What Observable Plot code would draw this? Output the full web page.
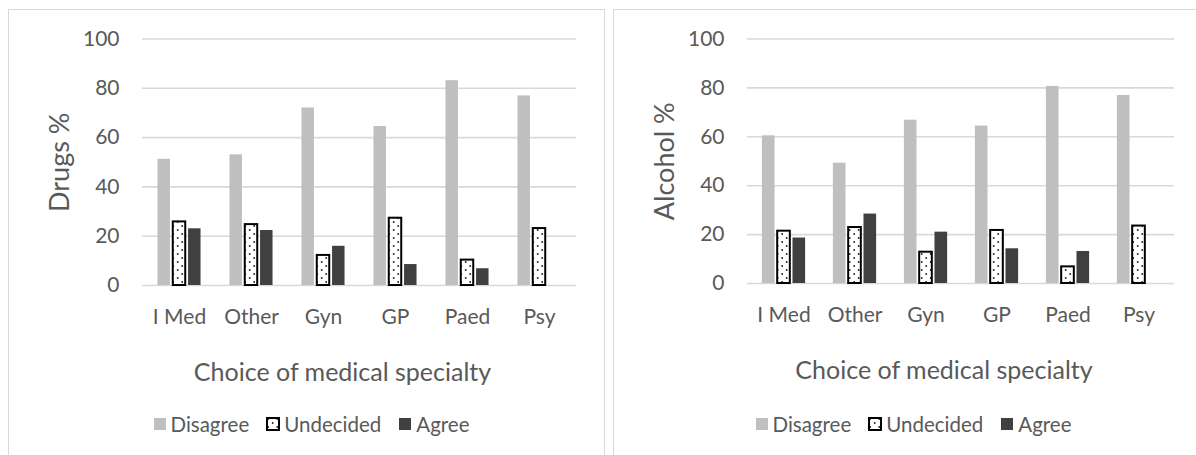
<!DOCTYPE html>
<html>
<head>
<meta charset="utf-8">
<script src="https://cdn.jsdelivr.net/npm/d3@7"></script>
<script src="https://cdn.jsdelivr.net/npm/@observablehq/plot@0.6"></script>
<style>
  html, body { margin: 0; padding: 0; background: #fff; }
  body { position: relative; width: 1196px; height: 455px; overflow: hidden; font-family: Lato, "Open Sans", sans-serif; }
  .frame { position: absolute; border: 1.5px solid #d9d9d9; box-sizing: border-box; }
  .chart { position: absolute; top: 0; }
  .legend { position: absolute; top: 412px; display: flex; justify-content: center; align-items: center; font-size: 20.5px; color: #595959; font-family: Lato, sans-serif; }
  .legend .item { display: flex; align-items: center; margin: 0 8.5px; }
  .legend svg { margin-right: 4px; }
</style>
</head>
<body>
<svg width="0" height="0" style="position:absolute">
  <defs>
    <pattern id="dots" patternUnits="userSpaceOnUse" width="9" height="8">
      <rect width="9" height="8" fill="#fff"></rect>
      <circle cx="2.2" cy="2" r="0.95" fill="#222"></circle>
      <circle cx="6.7" cy="6" r="0.95" fill="#222"></circle>
    </pattern>
  </defs>
</svg>
<div class="frame" style="left:8px; top:9px; width:597px; height:470px;"></div>
<div class="frame" style="left:613px; top:9px; width:600px; height:470px;"></div>
<div id="left" class="chart" style="left:0px;"></div>
<div id="right" class="chart" style="left:600px;"></div>
<div id="legendL" class="legend" style="left:0px; width:622px;"></div>
<div id="legendR" class="legend" style="left:600px; width:626px;"></div>
<script>
// ---- data ----
const categories = ["I Med", "Other", "Gyn", "GP", "Paed", "Psy"];
const seriesNames = ["Disagree", "Undecided", "Agree"];
const drugsDisagree  = [51.2, 53.0, 72.0, 64.5, 83.1, 76.9];
const drugsUndecided = [25.8, 24.7, 12.2, 27.3, 10.3, 23.1];
const drugsAgree     = [23.0, 22.3, 15.9, 8.5, 6.8, 0];
const alcoholDisagree  = [60.4, 49.2, 66.8, 64.4, 80.6, 76.9];
const alcoholUndecided = [21.4, 22.9, 12.8, 21.7, 6.8, 23.5];
const alcoholAgree     = [18.6, 28.4, 21.0, 14.2, 13.1, 0];
const yTicks = [0, 20, 40, 60, 80, 100];
const xTitle = "Choice of medical specialty";

const seriesStyle = {
  Disagree:  {fill: "#bfbfbf"},
  Undecided: {fill: "url(#dots)", stroke: "#000", strokeWidth: 2},
  Agree:     {fill: "#404040"}
};

function makePanel({lists, yLabel, width, marginLeft, marginRight, yZero}) {
  const height = 400;
  const step = (width - marginLeft - marginRight) / categories.length;
  const barW = 12.8, barStep = 15.3;
  const bars = seriesNames.map((name, s) => {
    const rows = categories.map((c, i) => ({category: c, value: lists[s][i]}));
    const off = (s - 1) * barStep;
    return Plot.barY(rows, {
      x: "category", y: "value",
      insetLeft: step / 2 - barW / 2 + off,
      insetRight: step / 2 - barW / 2 - off,
      ...seriesStyle[name]
    });
  });
  return Plot.plot({
    width, height,
    marginLeft, marginRight, marginTop: 38.5, marginBottom: height - yZero,
    x: {domain: categories, padding: 0, axis: null},
    y: {domain: [0, 100], axis: null},
    style: {fontFamily: "Lato, sans-serif", color: "#595959", background: "transparent", overflow: "visible"},
    marks: [
      Plot.ruleY(yTicks, {stroke: "#d9d9d9", strokeWidth: 1.6}),
      Plot.axisY({ticks: yTicks, tickSize: 0, tickPadding: 23, fontSize: 21, label: null, fill: "#595959"}),
      Plot.axisX({tickSize: 0, tickPadding: 24, fontSize: 21, label: null, fill: "#595959"}),
      ...bars,
      Plot.text([yLabel], {frameAnchor: "left", textAnchor: "middle", dx: -82, rotate: -90, fontSize: 27, fill: "#595959"}),
      Plot.text([xTitle], {frameAnchor: "bottom", textAnchor: "middle", dy: 95, dx: -17, fontSize: 25, fill: "#595959"})
    ]
  });
}

document.getElementById("left").append(makePanel({
  lists: [drugsDisagree, drugsUndecided, drugsAgree], yLabel: "Drugs %",
  width: 598, marginLeft: 142, marginRight: 22, yZero: 285
}));
document.getElementById("right").append(makePanel({
  lists: [alcoholDisagree, alcoholUndecided, alcoholAgree], yLabel: "Alcohol %",
  width: 596, marginLeft: 147, marginRight: 22, yZero: 283
}));

function legend(el) {
  for (const name of seriesNames) {
    const item = document.createElement("div");
    item.className = "item";
    const st = seriesStyle[name];
    const sw = name === "Undecided"
      ? `<svg width="14" height="14"><rect x="1" y="1" width="12" height="12" fill="url(#dots)" stroke="#000" stroke-width="2"></rect></svg>`
      : `<svg width="14" height="14"><rect x="1" y="1" width="12" height="12" fill="${st.fill}"></rect></svg>`;
    item.innerHTML = sw + `<span>${name}</span>`;
    el.append(item);
  }
}
legend(document.getElementById("legendL"));
legend(document.getElementById("legendR"));
</script>
</body>
</html>
